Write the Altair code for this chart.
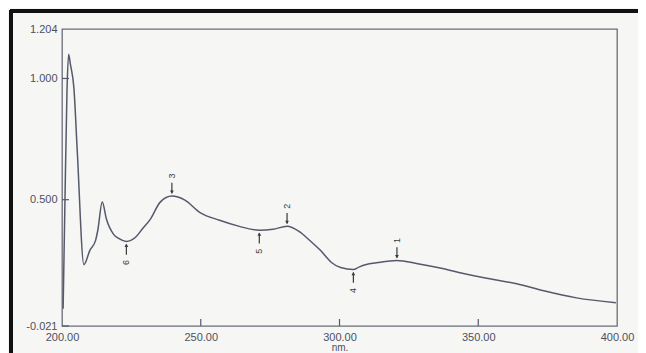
import altair as alt
import pandas as pd

# Spectrum (wavelength nm, absorbance)
wavelength = [200.4, 201.0, 201.8, 202.4, 203.0, 204.3, 205.5, 207.9, 210.0, 212.1,
              212.9, 214.5, 216.0, 218.6, 220.4, 223.2, 226.4, 229.0, 231.8, 235.4,
              239.6, 244.3, 249.6, 256.8, 263.9, 271.1, 276.0, 281.1, 285.4, 288.9,
              293.2, 297.1, 300.4, 305.0, 307.0, 309.3, 313.9, 320.7, 328.2, 335.4,
              343.0, 352.1, 363.9, 373.6, 385.4, 399.6]
absorbance = [0.05, 0.45, 0.95, 1.100, 1.06, 0.959, 0.70, 0.232, 0.29, 0.332,
              0.374, 0.490, 0.42, 0.357, 0.340, 0.328, 0.344, 0.38, 0.419, 0.490,
              0.515, 0.498, 0.448, 0.415, 0.390, 0.374, 0.378, 0.390, 0.369, 0.336,
              0.290, 0.241, 0.220, 0.212, 0.222, 0.232, 0.241, 0.249, 0.236, 0.220,
              0.200, 0.178, 0.153, 0.124, 0.095, 0.075]

peak_nm = [320.7, 281.1, 239.6]
peak_abs = [0.249, 0.390, 0.515]
peak_lbl = ["1", "2", "3"]
valley_nm = [305.0, 271.1, 223.2]
valley_abs = [0.212, 0.374, 0.328]
valley_lbl = ["4", "5", "6"]

x_ticks = [200, 250, 300, 350, 400]
y_ticks = [1.204, 1.000, 0.500, -0.021]

spec = pd.DataFrame({"nm": wavelength, "A": absorbance})
peaks = pd.DataFrame({"nm": peak_nm, "A": peak_abs, "lbl": peak_lbl})
peaks["a1"] = peaks["A"] + 0.012
peaks["a2"] = peaks["A"] + 0.055
valleys = pd.DataFrame({"nm": valley_nm, "A": valley_abs, "lbl": valley_lbl})
valleys["a1"] = valleys["A"] - 0.012
valleys["a2"] = valleys["A"] - 0.055
xt = pd.DataFrame({"nm": x_ticks[1:-1]})
yt = pd.DataFrame({"A": y_ticks[1:]})

INK = "#55596a"
TXT = "#4d5060"
MARK = "#3a3a3a"

xs = alt.Scale(domain=[200, 400], nice=False, zero=False)
ys = alt.Scale(domain=[-0.021, 1.204], nice=False, zero=False)

xaxis = alt.Axis(values=x_ticks, format=".2f", ticks=False, grid=False, domain=False,
                 labelFlush=False, labelColor=TXT, labelFontSize=11,
                 labelFont="Liberation Sans", labelPadding=5, title="nm.",
                 titleFontSize=10, titleFontWeight="normal", titleColor=TXT,
                 titleFont="Liberation Sans", titlePadding=0)
yaxis = alt.Axis(values=y_ticks, format=".3f", ticks=False, grid=False, domain=False,
                 labelFlush=False, labelColor=TXT, labelFontSize=11,
                 labelFont="Liberation Sans", labelPadding=5, title=None,
                 labelExpr="replace(format(datum.value, '.3f'), '\u2212', '-')")

line = alt.Chart(spec).mark_line(color=INK, strokeWidth=1.5, interpolate="monotone").encode(
    x=alt.X("nm:Q", scale=xs, axis=xaxis),
    y=alt.Y("A:Q", scale=ys, axis=yaxis),
)

xtick = alt.Chart(xt).mark_rule(color=INK, strokeWidth=1.2).encode(
    x=alt.X("nm:Q", scale=xs), y=alt.value(297), y2=alt.value(290))
ytick = alt.Chart(yt).mark_rule(color=INK, strokeWidth=1.2).encode(
    y=alt.Y("A:Q", scale=ys), x=alt.value(0), x2=alt.value(7))

p_rule = alt.Chart(peaks).mark_rule(color=MARK, strokeWidth=1.2).encode(
    x=alt.X("nm:Q", scale=xs), y=alt.Y("a1:Q", scale=ys), y2="a2:Q")
p_head = alt.Chart(peaks).mark_point(shape="triangle-down", filled=True, size=14,
                                     color=MARK, opacity=1, yOffset=-4).encode(
    x=alt.X("nm:Q", scale=xs), y=alt.Y("A:Q", scale=ys))
p_text = alt.Chart(peaks).mark_text(angle=270, fontSize=9, color=MARK, yOffset=-20,
                                    font="Liberation Sans").encode(
    x=alt.X("nm:Q", scale=xs), y=alt.Y("A:Q", scale=ys), text="lbl:N")

v_rule = alt.Chart(valleys).mark_rule(color=MARK, strokeWidth=1.2).encode(
    x=alt.X("nm:Q", scale=xs), y=alt.Y("a1:Q", scale=ys), y2="a2:Q")
v_head = alt.Chart(valleys).mark_point(shape="triangle-up", filled=True, size=14,
                                       color=MARK, opacity=1, yOffset=4).encode(
    x=alt.X("nm:Q", scale=xs), y=alt.Y("A:Q", scale=ys))
v_text = alt.Chart(valleys).mark_text(angle=270, fontSize=9, color=MARK, yOffset=21,
                                      font="Liberation Sans").encode(
    x=alt.X("nm:Q", scale=xs), y=alt.Y("A:Q", scale=ys), text="lbl:N")

# photo frame (outer black border)
frame_top = alt.Chart(spec).mark_rule(color="#111", strokeWidth=2.5).encode(
    x=alt.value(-52), x2=alt.value(620), y=alt.value(-18))
frame_left = alt.Chart(spec).mark_rule(color="#111", strokeWidth=2.5).encode(
    y=alt.value(-19), y2=alt.value(340), x=alt.value(-51))

chart = alt.layer(line, xtick, ytick, p_rule, p_head, p_text, v_rule, v_head, v_text,
                  frame_top, frame_left).properties(
    width=555, height=297,
    autosize=alt.AutoSizeParams(type="none"),
    padding={"left": 54, "top": 21, "right": 21, "bottom": 34},
    background="#f6f6f5",
).configure_view(stroke="#6a6d78", strokeWidth=1.3)

chart.save("out.html", embed_options={"renderer": "svg", "actions": False})
